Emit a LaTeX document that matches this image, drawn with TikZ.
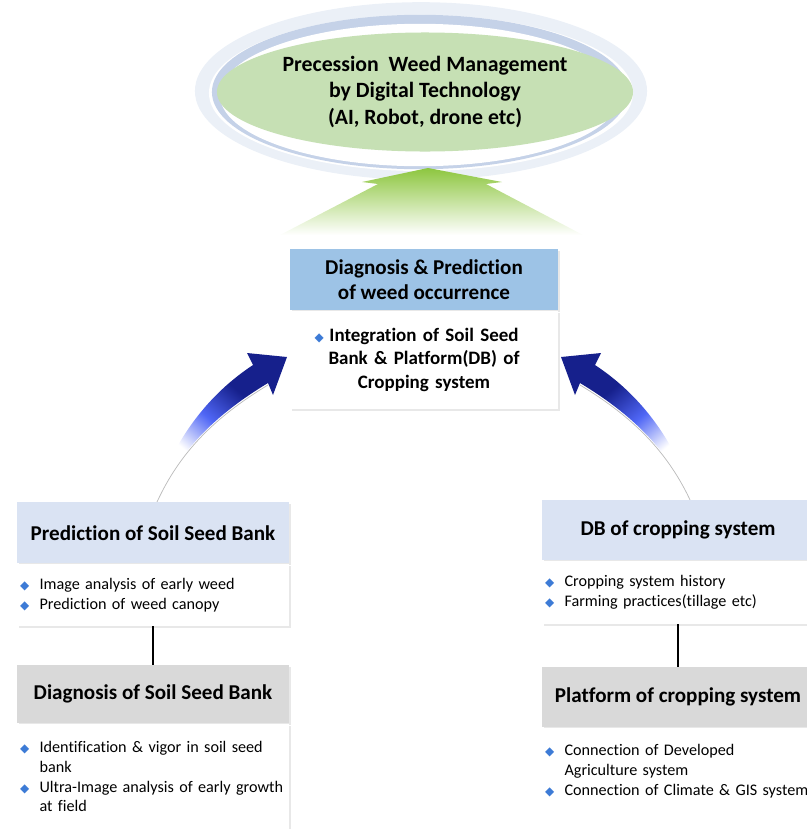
\documentclass[tikz,border=0pt]{standalone}
\usepackage{fontspec}
\setmainfont{Carlito}[Ligatures=NoCommon]
\newfontfamily\symfont{DejaVu Sans}
\usepackage{xcolor}
\usepackage{tikz}
\usetikzlibrary{positioning, shapes.geometric, shadows}

\definecolor{goalgreen}{HTML}{C6E0B4}
\definecolor{ringblue}{HTML}{C5D2E8}
\definecolor{ringpale}{HTML}{EBF0F7}
\definecolor{arrowgreen}{HTML}{8DC63F}
\definecolor{diagblue}{HTML}{9DC3E6}
\definecolor{predblue}{HTML}{DAE3F3}
\definecolor{headgray}{HTML}{D9D9D9}
\definecolor{bulblue}{HTML}{3D7BD6}
\definecolor{arrowblue}{HTML}{4F66F5}
\definecolor{arrownavy}{HTML}{16208C}

\pgfdeclareverticalshading{bluearrow}{100bp}{color(0bp)=(white); color(36bp)=(white); color(50bp)=(arrowblue); color(64bp)=(arrownavy); color(100bp)=(arrownavy)}

\newcommand{\dia}{\textcolor{bulblue}{\symfont\fontsize{8.5}{8.5}\selectfont ◆}}
\newcommand{\itm}[1]{\mbox{\makebox[1.2em][l]{\dia}#1}}
\newcommand{\ind}[1]{\mbox{\hspace*{1.2em}#1}}

\begin{document}
\begin{tikzpicture}[
    x=0.025cm, y=-0.025cm,
    goalnode/.style={ellipse, fill=goalgreen, minimum width=9.125cm, minimum height=2.975cm, align=center, font=\fontsize{15.5}{18.8}\selectfont\bfseries},
    headbox/.style={minimum width=6.8cm, inner sep=0pt, align=center, font=\fontsize{15}{18}\selectfont\bfseries, drop shadow={opacity=0.18, shadow xshift=1.5pt, shadow yshift=-1.5pt}},
    bodybox/.style={fill=white, minimum width=6.8cm, inner xsep=0.08cm, inner ysep=0pt, text width=6.64cm, align=left, font=\fontsize{11.5}{14}\selectfont, drop shadow={opacity=0.18, shadow xshift=1.5pt, shadow yshift=-1.5pt}},
    arrowshade/.style={shading=bluearrow, shading angle=#1}
]
\useasboundingbox (0,0) rectangle (807,829);
\clip (0,0) rectangle (807,829);

% top goal with rings
\fill[ringpale] (421,91) ellipse [x radius=5.65cm, y radius=2.22cm];
\fill[white] (421,93) ellipse [x radius=5.3cm, y radius=1.95cm];
\fill[ringblue] (420,92) ellipse [x radius=5.2cm, y radius=1.93cm];
\fill[white] (420,95) ellipse [x radius=5.0cm, y radius=1.78cm];
\node[goalnode] (goal) at (425,92) {Precession~ Weed Management\\by Digital Technology\\(AI, Robot, drone etc)};

% green arrow
\shade[top color=arrowgreen, bottom color=white] (428,168) -- (502,182) -- (486,184) -- (583,235) -- (280,235) -- (378,184) -- (362,182) -- cycle;

% centre box
\node[headbox, fill=diagblue, minimum width=6.7cm, minimum height=1.525cm, anchor=north] (diag_head) at (424,249) {Diagnosis \& Prediction\\of weed occurrence};
\node[bodybox, below=0pt of diag_head, minimum width=6.7cm, text width=6.54cm, minimum height=2.45cm, align=center, font=\fontsize{13.5}{16.7}\selectfont\bfseries] (diag_body) {\llap{\dia\hspace{4pt}}Integration of Soil Seed\\Bank \& Platform(DB) of\\Cropping system};

% blue arrows
\shade[arrowshade=-40] (153,502) .. controls (170,450) and (200,400) .. (253,365) -- (247,353) -- (287,357) -- (273,395) -- (268,383) .. controls (215,415) and (180,450) .. (156,502) -- cycle;
\draw[gray!55, line width=0.5pt] (268,385) .. controls (215,417) and (180,452) .. (157,502);
\shade[arrowshade=40] (695,502) .. controls (678,450) and (648,400) .. (595,365) -- (601,353) -- (561,357) -- (575,395) -- (580,383) .. controls (633,415) and (668,450) .. (692,502) -- cycle;
\draw[gray!55, line width=0.5pt] (580,385) .. controls (633,417) and (668,452) .. (691,502);

% left column
\node[headbox, fill=predblue, minimum height=1.525cm, anchor=north] (pred_head) at (153,502) {Prediction of Soil Seed Bank};
\node[bodybox, below=0pt of pred_head, minimum height=1.55cm] (pred_body) {\itm{Image analysis of early weed}\\\itm{Prediction of weed canopy}};
\node[headbox, fill=headgray, minimum height=1.45cm, anchor=north] (sbank_head) at (153,665) {Diagnosis of Soil Seed Bank};
\node[bodybox, below=0pt of sbank_head, minimum height=2.65cm] (sbank_body) {\itm{Identification \& vigor in soil seed}\\\ind{bank}\\\itm{Ultra-Image analysis of early growth}\\\ind{at field}};

% right column
\node[headbox, fill=predblue, minimum height=1.5cm, anchor=north] (dbcrop_head) at (678,500) {DB of cropping system};
\node[bodybox, below=0pt of dbcrop_head, minimum height=1.575cm] (dbcrop_body) {\itm{Cropping system history}\\\itm{Farming practices(tillage etc)}};
\node[headbox, fill=headgray, minimum height=1.5cm, anchor=north] (platf_head) at (678,667) {Platform of cropping system};
\node[bodybox, below=0pt of platf_head, minimum height=2.6cm] (platf_body) {\itm{Connection of Developed}\\\ind{Agriculture system}\\\itm{Connection of Climate \& GIS system}\\\mbox{}};

\draw[line width=2.1pt] (pred_body) -- (sbank_head);
\draw[line width=2.1pt] (dbcrop_body) -- (platf_head);
\end{tikzpicture}
\end{document}
